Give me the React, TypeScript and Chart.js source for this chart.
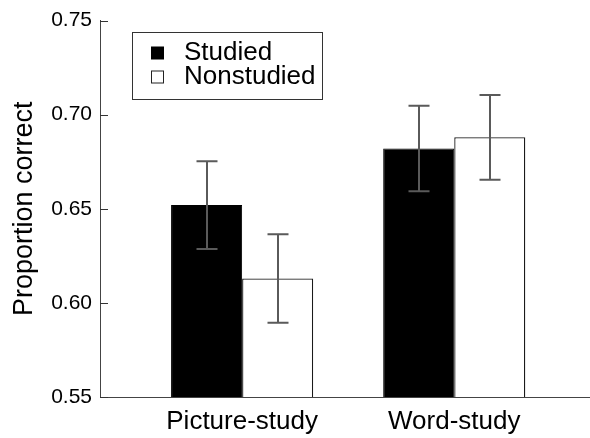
import React, { useEffect, useRef } from 'react';
import { Chart, registerables } from 'chart.js';

Chart.register(...registerables);

const categories = ['Picture-study', 'Word-study'];
const seriesNames = ['Studied', 'Nonstudied'];
const studiedMeans = [0.652, 0.682];
const nonstudiedMeans = [0.613, 0.688];
const studiedErr = [0.0233, 0.0227];
const nonstudiedErr = [0.0235, 0.0225];
const yTicks = [0.55, 0.6, 0.65, 0.7, 0.75];
const yTitle = 'Proportion correct';

const FONT = "'Liberation Sans', Arial, Helvetica, sans-serif";

const means = [studiedMeans, nonstudiedMeans];
const errs = [studiedErr, nonstudiedErr];

const errorBarPlugin = {
  id: 'errorBars',
  afterDatasetsDraw(chart: any) {
    const ctx = chart.ctx;
    const y = chart.scales.y;
    ctx.save();
    ctx.strokeStyle = '#5a5a5a';
    ctx.lineWidth = 2;
    errs.forEach((errArr, di) => {
      const meta = chart.getDatasetMeta(di);
      meta.data.forEach((bar: any, j: number) => {
        const v = means[di][j];
        const top = y.getPixelForValue(v + errArr[j]);
        const bot = y.getPixelForValue(v - errArr[j]);
        const x = Math.round(bar.x);
        ctx.beginPath();
        ctx.moveTo(x, top);
        ctx.lineTo(x, bot);
        ctx.moveTo(x - 10.5, top);
        ctx.lineTo(x + 10.5, top);
        ctx.moveTo(x - 10.5, bot);
        ctx.lineTo(x + 10.5, bot);
        ctx.stroke();
      });
    });
    ctx.restore();
  },
};

const innerTicksPlugin = {
  id: 'innerTicks',
  afterDraw(chart: any) {
    const ctx = chart.ctx;
    const y = chart.scales.y;
    const left = chart.chartArea.left;
    ctx.save();
    ctx.strokeStyle = '#333';
    ctx.lineWidth = 1;
    yTicks.forEach((t) => {
      const py = Math.round(y.getPixelForValue(t)) + 0.5;
      ctx.beginPath();
      ctx.moveTo(left, py);
      ctx.lineTo(left + 8, py);
      ctx.stroke();
    });
    ctx.restore();
  },
};

const boxLegendPlugin = {
  id: 'boxLegend',
  afterDraw(chart: any) {
    const ctx = chart.ctx;
    ctx.save();
    ctx.strokeStyle = '#333';
    ctx.lineWidth = 1;
    ctx.strokeRect(132.5, 32.5, 190, 67);
    const rows = [53, 77];
    seriesNames.forEach((name, i) => {
      const cy = rows[i];
      if (i === 0) {
        ctx.fillStyle = '#000';
        ctx.fillRect(151, cy - 6.5, 13, 13);
      } else {
        ctx.fillStyle = '#fff';
        ctx.fillRect(151, cy - 6.5, 13, 13);
        ctx.strokeStyle = '#222';
        ctx.strokeRect(151.5, cy - 6, 12, 12);
      }
      ctx.fillStyle = '#000';
      ctx.font = `26px ${FONT}`;
      ctx.textAlign = 'left';
      ctx.textBaseline = 'middle';
      ctx.fillText(name, 184, cy);
    });
    ctx.restore();
  },
};

export default function App() {
  const ref = useRef<HTMLCanvasElement | null>(null);

  useEffect(() => {
    if (!ref.current) return;
    Chart.defaults.font.family = FONT;
    const chart = new Chart(ref.current, {
      type: 'bar',
      data: {
        datasets: [
          {
            label: seriesNames[0],
            data: categories.map((_, i) => ({ x: i, y: studiedMeans[i] })),
            backgroundColor: '#000',
            borderColor: '#000',
            borderWidth: 1,
          },
          {
            label: seriesNames[1],
            data: categories.map((_, i) => ({ x: i, y: nonstudiedMeans[i] })),
            backgroundColor: '#fff',
            borderColor: '#1a1a1a',
            borderWidth: 1.3,
          },
        ],
      },
      options: {
        animation: false,
        responsive: false,
        devicePixelRatio: 1,
        categoryPercentage: 0.67,
        barPercentage: 1,
        layout: { padding: { top: 17, right: 0, left: 0, bottom: 0 } },
        plugins: {
          legend: { display: false },
          tooltip: { enabled: false },
        },
        scales: {
          x: {
            type: 'linear',
            offset: false,
            min: -0.67,
            max: 1.64,
            afterBuildTicks: (s: any) => {
              s.ticks = categories.map((_, i) => ({ value: i }));
            },
            afterFit: (s: any) => {
              s.height = 41;
            },
            grid: { display: false, drawTicks: false },
            border: { display: true, color: '#444', width: 1 },
            ticks: {
              padding: 9,
              color: '#000',
              font: { size: 26 },
              maxRotation: 0,
              callback: (v: any) => categories[Math.round(Number(v))] ?? '',
            },
          },
          y: {
            type: 'linear',
            min: 0.55,
            max: 0.75,
            afterBuildTicks: (s: any) => {
              s.ticks = yTicks.map((v) => ({ value: v }));
            },
            afterFit: (s: any) => {
              s.width = 100;
            },
            grid: { display: false, drawTicks: false },
            border: { display: true, color: '#444', width: 1 },
            ticks: {
              padding: 8,
              color: '#000',
              font: { size: 21 },
              callback: (v: any) => Number(v).toFixed(2),
            },
            title: {
              display: true,
              text: yTitle,
              color: '#000',
              font: { size: 27 },
              padding: { top: 8, bottom: 0 },
            },
          },
        },
      },
      plugins: [errorBarPlugin, innerTicksPlugin, boxLegendPlugin],
    } as any);
    return () => chart.destroy();
  }, []);

  return (
    <div style={{ position: 'absolute', left: 0, top: 0, width: 590, height: 438 }}>
      <canvas ref={ref} width={590} height={438} />
    </div>
  );
}
